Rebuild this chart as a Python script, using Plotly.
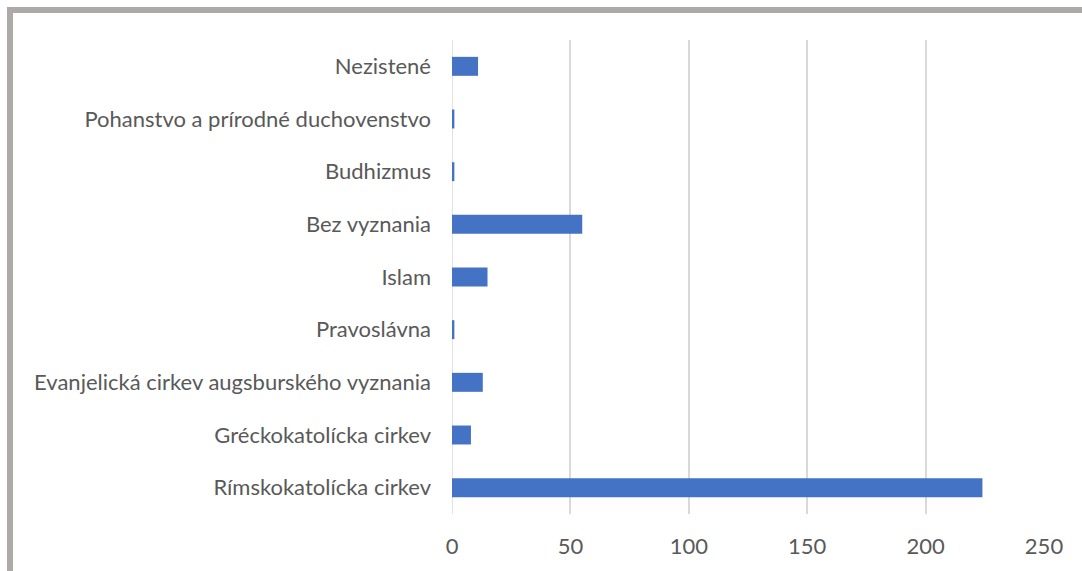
import plotly.graph_objects as go

categories = [
    "Rímskokatolícka cirkev",
    "Gréckokatolícka cirkev",
    "Evanjelická cirkev augsburského vyznania",
    "Pravoslávna",
    "Islam",
    "Bez vyznania",
    "Budhizmus",
    "Pohanstvo a prírodné duchovenstvo",
    "Nezistené",
]
values = [224, 8, 13, 1, 15, 55, 1, 1, 11]
x_ticks = [0, 50, 100, 150, 200, 250]

W, H = 1082, 571
ml, mr, mt, mb = 452, 38, 40, 57

fig = go.Figure(go.Bar(
    y=categories, x=values, orientation="h",
    marker=dict(color="#4472C4", line=dict(width=0)),
))

pw = W - ml - mr
ph = H - mt - mb
# border frame (left and top visible)
bx = 10
by = 10
fig.add_shape(type="rect", xref="paper", yref="paper",
              x0=(bx - ml) / pw, x1=(W + 20 - ml) / pw,
              y0=-(H + 20 - mt - ph) / ph, y1=1 + (mt - by) / ph,
              line=dict(color="#ADA9A9", width=6), fillcolor="rgba(0,0,0,0)", layer="above")

fig.update_layout(
    width=W, height=H,
    margin=dict(l=ml, r=mr, t=mt, b=mb, pad=0),
    paper_bgcolor="white", plot_bgcolor="white",
    font=dict(family="Lato, 'Open Sans', sans-serif", size=22, color="#595959"),
    bargap=0.64,
    showlegend=False,
    xaxis=dict(range=[0, 250], tickvals=x_ticks, showgrid=True, gridcolor="#D9D9D9",
               gridwidth=1.5, zeroline=False, showline=False, ticks="",
               ticklabelstandoff=17, fixedrange=True),
    yaxis=dict(showgrid=False, zeroline=False, showline=False, ticks="",
               ticklabelstandoff=20, categoryorder="array", categoryarray=categories,
               fixedrange=True),
)
fig.add_shape(type="line", xref="x", yref="paper", x0=0, x1=0, y0=0, y1=1,
              line=dict(color="#D9D9D9", width=1.5), layer="below")

fig.write_html("out.html", config={"displayModeBar": False},
               post_script="document.body.style.margin='0';document.body.style.overflow='hidden';")
